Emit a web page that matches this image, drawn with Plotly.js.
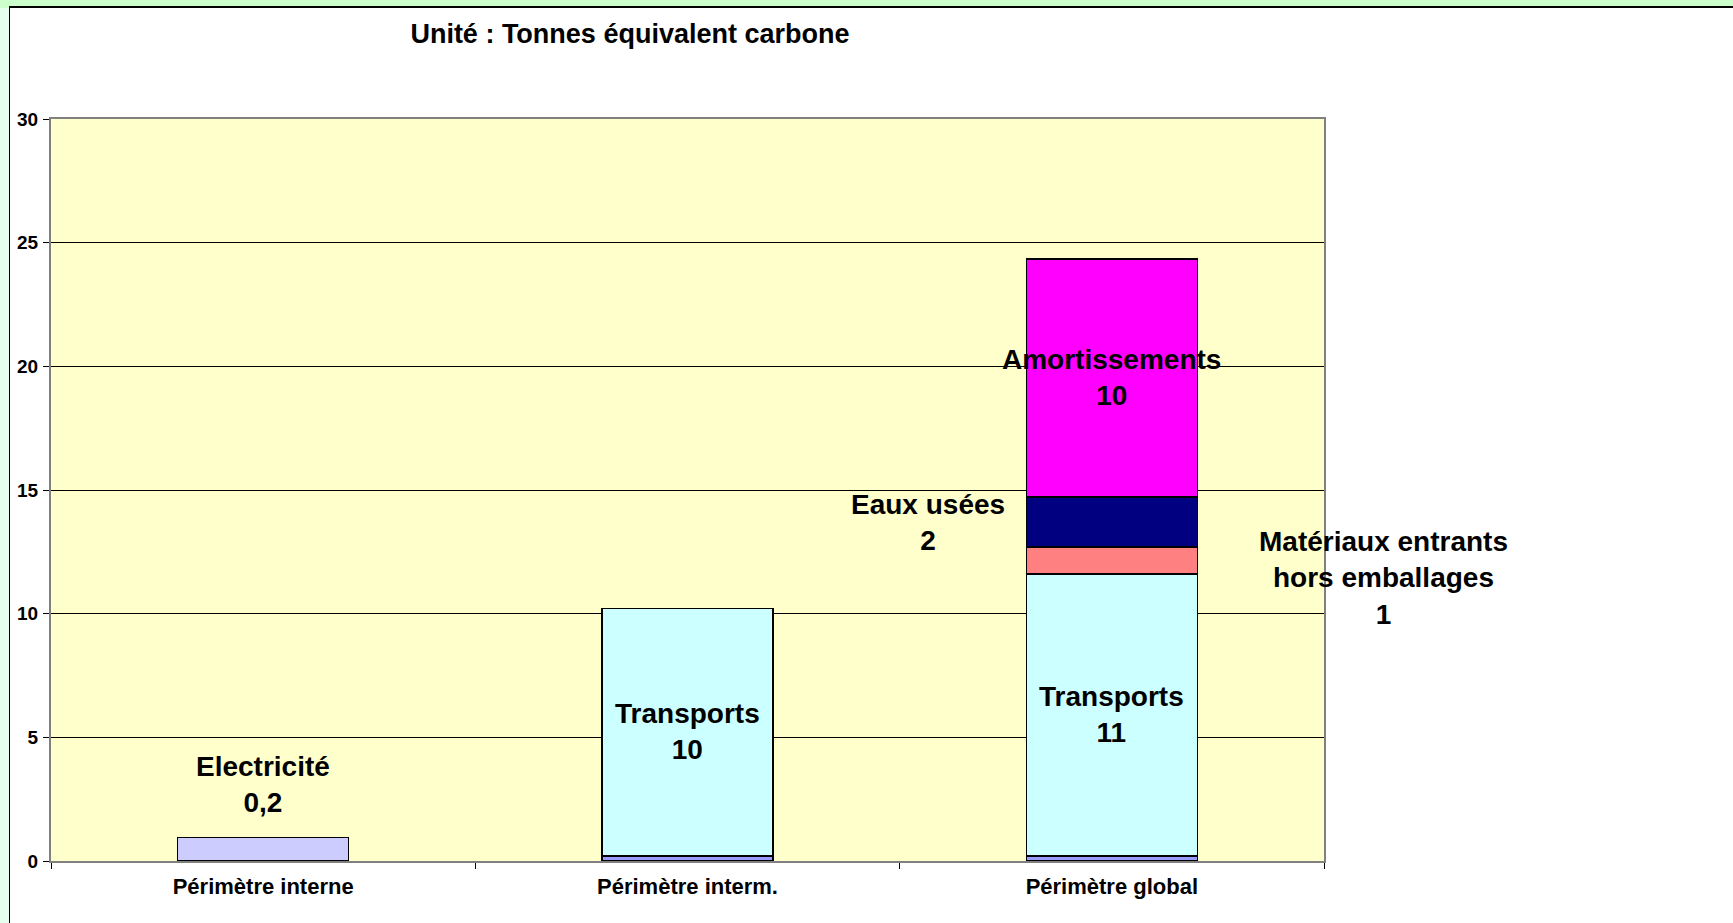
<!DOCTYPE html>
<html>
<head>
<meta charset="utf-8">
<script src="https://cdn.plot.ly/plotly-3.0.1.min.js"></script>
<style>
  html, body { margin:0; padding:0; width:1733px; height:923px; overflow:hidden; background:#CCFFCC; }
  #leftband { position:absolute; left:0; top:8px; width:9px; height:915px; background:#E6FFEE; }
  #chart { position:absolute; left:9px; top:6px; width:1723px; height:915px;
           border-left:1px solid #000; border-top:2px solid #000; background:#fff; }
</style>
</head>
<body>
<div id="leftband"></div>
<div id="chart"></div>
<script>
// ---- data ----
const categories = ["Périmètre interne", "Périmètre interm.", "Périmètre global"];
const electricite = [0.95, 0.2, 0.2];
const transports = [null, 10.0, 11.4];
const materiaux = [null, null, 1.1];
const eauxUsees = [null, null, 2.02];
const amortissements = [null, null, 9.62];
const yTicks = [0, 5, 10, 15, 20, 25, 30];
const labelTexts = {
  electricite: "Electricité<br>0,2",
  transportsInterm: "Transports<br>10",
  transportsGlobal: "Transports<br>11",
  materiaux: "Matériaux entrants<br>hors emballages<br>1",
  eaux: "Eaux usées<br>2",
  amort: "Amortissements<br>10"
};
const titleText = "Unité : Tonnes équivalent carbone";

// ---- chart ----
const FONT = "Liberation Sans, Arial, sans-serif";
const outline = {color: "#000", width: 1.5};
function bar(name, y, color) {
  return {type: "bar", name: name, x: categories, y: y,
          marker: {color: color, line: outline}, hoverinfo: "skip"};
}
const traces = [
  bar("Electricité", electricite, ["#CCCCFF", "#9999FF", "#9999FF"]),
  bar("Transports", transports, "#CCFFFF"),
  bar("Matériaux entrants hors emballages", materiaux, "#FF8080"),
  bar("Eaux usées", eauxUsees, "#000080"),
  bar("Amortissements", amortissements, "#FF00FF")
];

const lblFont = {family: FONT, size: 28, color: "#000", weight: "bold"};
function ann(x, y, text, xshift) {
  return {x: x, y: y, xref: "x", yref: "y", text: text, showarrow: false,
          xanchor: "center", yanchor: "middle", align: "center",
          xshift: xshift || 0, font: lblFont};
}

const layout = {
  width: 1723, height: 915,
  margin: {l: 41, r: 409, t: 111, b: 62, pad: 0},
  paper_bgcolor: "#ffffff",
  plot_bgcolor: "#FFFFCC",
  barmode: "stack",
  bargap: 0.597,
  showlegend: false,
  title: {text: titleText, x: 0.3598, xanchor: "center", xref: "container",
          y: 0.9716, yanchor: "middle", yref: "container",
          font: {family: FONT, size: 27, color: "#000", weight: "bold"}},
  xaxis: {type: "category", range: [-0.5, 2.5], autorange: false,
          tickson: "boundaries", ticks: "outside", ticklen: 6,
          tickcolor: "#000", tickwidth: 1, showgrid: false,
          showline: true, linecolor: "#808080", linewidth: 2, mirror: true,
          tickfont: {family: FONT, size: 22, color: "#000", weight: "bold"},
          ticklabelstandoff: 5},
  yaxis: {range: [0, 30], autorange: false, tickvals: yTicks, ticktext: yTicks.map(String),
          ticks: "outside", ticklen: 6, tickcolor: "#000",
          showgrid: true, gridcolor: "#000", gridwidth: 1, zeroline: false,
          showline: true, linecolor: "#808080", linewidth: 2, mirror: true,
          tickfont: {family: FONT, size: 19, color: "#000", weight: "bold"},
          ticklabelstandoff: 1},
  annotations: [
    ann(categories[0], 3.1, labelTexts.electricite),
    ann(categories[1], 5.22, labelTexts.transportsInterm),
    ann(categories[2], 5.91, labelTexts.transportsGlobal),
    ann(categories[2], 19.55, labelTexts.amort),
    ann(categories[2], 13.67, labelTexts.eaux, -184),
    ann(categories[2], 11.43, labelTexts.materiaux, 272)
  ]
};

Plotly.newPlot("chart", traces, layout, {staticPlot: true, displayModeBar: false});
</script>
</body>
</html>
